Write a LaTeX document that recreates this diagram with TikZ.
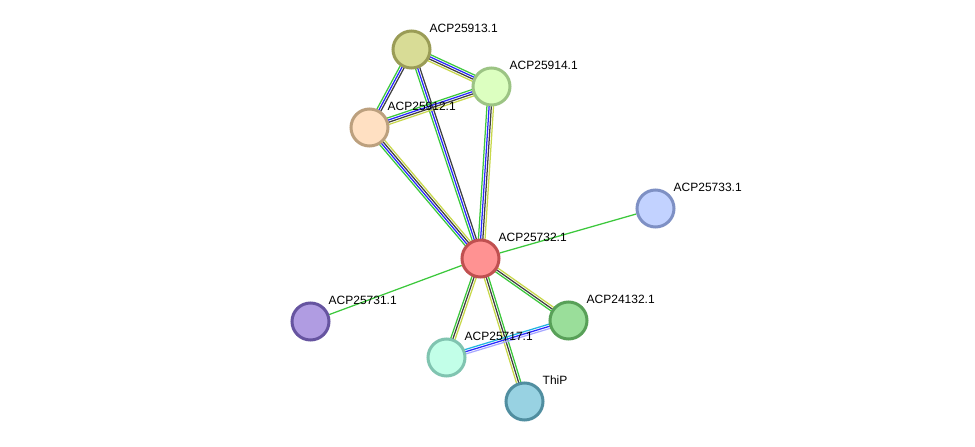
\documentclass[tikz,border=0pt]{standalone}
\usepackage{fontspec}
\setmainfont{Liberation Sans}
\usetikzlibrary{calc}

\definecolor{egreen}{HTML}{3CC83C}
\definecolor{eblue}{HTML}{2828FF}
\definecolor{eblack}{HTML}{404040}
\definecolor{eyellow}{HTML}{C8D84A}
\definecolor{ecyan}{HTML}{22B4E0}
\definecolor{elav}{HTML}{A8A8FF}

\pgfdeclarelayer{bg}
\pgfsetlayers{bg,main}

\tikzset{
  prot/.style={circle, minimum size=37pt, inner sep=0pt, line width=3pt},
  lbl/.style={anchor=base west, inner sep=0pt, font=\fontsize{12}{14}\selectfont},
  eline/.style={line width=1.25pt}
}

% #1,#2 node names, #3 number of strands, #4 colours (left of travel first)
\newcommand\ppiedge[4]{%
  \foreach \col [count=\i] in {#4} {
    \pgfmathsetmacro\off{((#3+1)/2-\i)*2.2}
    \draw[eline, \col] ($(#1.center)!\off pt!90:(#2.center)$) -- ($(#2.center)!\off pt!-90:(#1.center)$);
  }%
}

\begin{document}
\begin{tikzpicture}[x=1pt, y=-1pt]
    \useasboundingbox (0,0) rectangle (975,447);
    \foreach \n/\x/\y/\fc/\dc/\t in {
        a25913/411.5/49.5/D8DC96/9A9C56/ACP25913.1,
        a25914/491.5/86.5/DCFFC0/9CC484/ACP25914.1,
        a25912/369.5/127.5/FFE0C2/BCA07E/ACP25912.1,
        a25732/480.5/258.5/FF9292/C05050/ACP25732.1,
        a25733/655.5/208.5/C2D2FF/7E90C4/ACP25733.1,
        a25731/310.5/321.5/B09CE2/6654A0/ACP25731.1,
        a24132/568.5/320.5/9ADE9A/58A058/ACP24132.1,
        a25717/446.5/357.5/C2FFE8/80C4B0/ACP25717.1,
        thip/524.5/401.5/98D2E2/508EA0/ThiP} {
        \definecolor{nfill}{HTML}{\fc}
        \definecolor{ndraw}{HTML}{\dc}
        \node[prot, fill=nfill, draw=ndraw] (\n) at (\x,\y) {};
        \node[lbl] (\n-l) at (\x+18,\y-17) {\t};
    }
    \begin{pgfonlayer}{bg}
    \ppiedge{a25913}{a25914}{4}{egreen,eblue,eblack,eyellow}
    \ppiedge{a25913}{a25912}{3}{eblack,eblue,egreen}
    \ppiedge{a25913}{a25732}{3}{eblack,eblue,egreen}
    \ppiedge{a25912}{a25914}{4}{egreen,eblue,eblack,eyellow}
    \ppiedge{a25914}{a25732}{4}{eyellow,eblack,eblue,egreen}
    \ppiedge{a25912}{a25732}{4}{eyellow,eblack,eblue,egreen}
    \ppiedge{a25732}{a24132}{3}{eyellow,eblack,egreen}
    \ppiedge{a25732}{a25717}{3}{eyellow,eblack,egreen}
    \ppiedge{a25732}{thip}{3}{egreen,eblack,eyellow}
    \ppiedge{a25717}{a24132}{3}{ecyan,eblue,elav}
    \draw[eline, egreen] (a25732) -- (a25733);
    \draw[eline, egreen] (a25732) -- (a25731);
    \end{pgfonlayer}
\end{tikzpicture}
\end{document}
